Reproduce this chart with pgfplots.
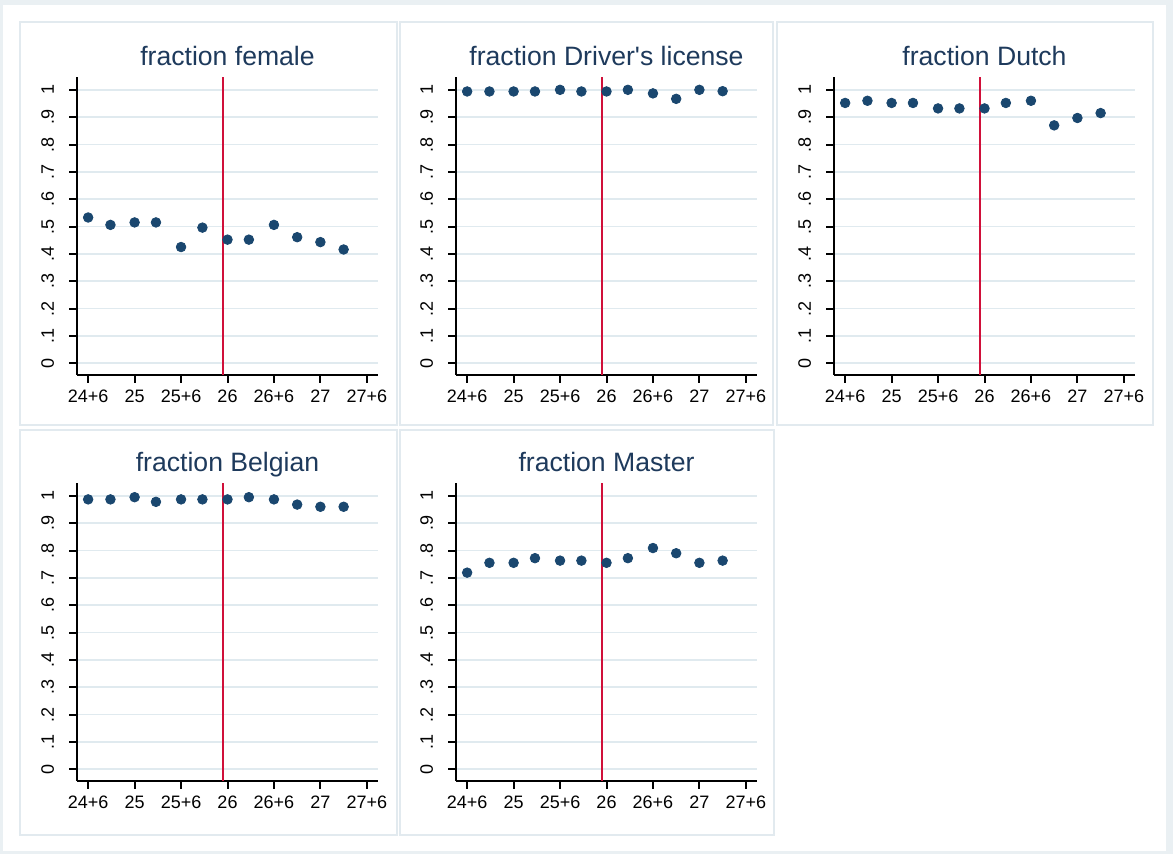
\documentclass[border=0pt]{standalone}
\usepackage{pgfplots}
\pgfplotsset{compat=1.18}
\usepackage{fontspec}
\setmainfont{Liberation Sans}
\definecolor{outerbg}{HTML}{EAF0F3}
\definecolor{framecol}{HTML}{E2EAEF}
\definecolor{gridcol}{HTML}{E0EAEF}
\definecolor{stnavy}{HTML}{1A476F}
\definecolor{redline}{HTML}{D0103A}
\definecolor{titlecol}{HTML}{1E3A5C}

\pgfplotsset{
 panel/.style={
  scale only axis, width=150.5pt, height=149pt,
  xmin=24.38, xmax=27.62, ymin=-0.043, ymax=1.047,
  axis x line*=bottom, axis y line*=left,
  axis line style={line width=1pt, black},
  xtick={24.5,25,25.5,26,26.5,27,27.5},
  xticklabels={24+6,25,25+6,26,26+6,27,27+6},
  ytick={0,0.1,0.2,0.3,0.4,0.5,0.6,0.7,0.8,0.9,1},
  yticklabels={0,.1,.2,.3,.4,.5,.6,.7,.8,.9,1},
  tick align=outside, major tick length=4pt,
  tick style={line width=1pt, black},
  ymajorgrids, grid style={gridcol, line width=0.75pt},
  xticklabel style={font=\fontsize{9}{10}\selectfont, black},
  yticklabel style={font=\fontsize{9}{10}\selectfont, black, rotate=90, anchor=south},
  yticklabel shift=4pt,
  title style={font=\fontsize{13.3}{16}\selectfont, color=titlecol, at={(0.5,1)}, anchor=base, yshift=-0.5pt},
 },
 pts/.style={only marks, mark=*, mark size=2.4pt, color=stnavy, mark options={draw=stnavy, fill=stnavy}},
 cut/.style={redline, line width=1pt, no marks},
}

\begin{document}
\begin{tikzpicture}
\fill[outerbg] (0,0) rectangle (586.5pt,427pt);
\fill[white] (1.5pt,1.5pt) rectangle (583pt,424.5pt);
\draw[framecol, line width=1pt] (10pt,416pt) rectangle (198.5pt,214.5pt);
\draw[framecol, line width=1pt] (200pt,416pt) rectangle (386.5pt,214.5pt);
\draw[framecol, line width=1pt] (388.5pt,416pt) rectangle (576.5pt,214.5pt);
\draw[framecol, line width=1pt] (10pt,212pt) rectangle (198.5pt,9.5pt);
\draw[framecol, line width=1pt] (200pt,212pt) rectangle (387pt,9.5pt);

% Panel 1: female
\begin{axis}[panel, at={(38.5pt,239.5pt)}, anchor=south west, title={fraction female}]
\addplot[cut] coordinates {(25.95,-0.043) (25.95,1.047)};
\addplot[pts] coordinates {
(24.5,0.533) (24.74,0.506) (25,0.515) (25.23,0.515) (25.5,0.425) (25.73,0.496)
(26,0.452) (26.23,0.452) (26.5,0.506) (26.75,0.461) (27,0.443) (27.25,0.416)};
\end{axis}

% Panel 2: Driver's license
\begin{axis}[panel, at={(228pt,239.5pt)}, anchor=south west, title={fraction Driver\textquotesingle s license}]
\addplot[cut] coordinates {(25.95,-0.043) (25.95,1.047)};
\addplot[pts] coordinates {
(24.5,0.994) (24.74,0.994) (25,0.994) (25.23,0.994) (25.5,1.0) (25.73,0.994)
(26,0.994) (26.23,1.0) (26.5,0.987) (26.75,0.967) (27,1.0) (27.25,0.995)};
\end{axis}

% Panel 3: Dutch
\begin{axis}[panel, at={(417pt,239.5pt)}, anchor=south west, title={fraction Dutch}]
\addplot[cut] coordinates {(25.95,-0.043) (25.95,1.047)};
\addplot[pts] coordinates {
(24.5,0.952) (24.74,0.960) (25,0.952) (25.23,0.952) (25.5,0.932) (25.73,0.932)
(26,0.932) (26.23,0.952) (26.5,0.960) (26.75,0.870) (27,0.897) (27.25,0.915)};
\end{axis}

% Panel 4: Belgian
\begin{axis}[panel, at={(38.5pt,36.5pt)}, anchor=south west, title={fraction Belgian}]
\addplot[cut] coordinates {(25.95,-0.043) (25.95,1.047)};
\addplot[pts] coordinates {
(24.5,0.987) (24.74,0.987) (25,0.995) (25.23,0.978) (25.5,0.987) (25.73,0.987)
(26,0.987) (26.23,0.995) (26.5,0.987) (26.75,0.968) (27,0.960) (27.25,0.960)};
\end{axis}

% Panel 5: Master
\begin{axis}[panel, at={(228pt,36.5pt)}, anchor=south west, title={fraction Master}]
\addplot[cut] coordinates {(25.95,-0.043) (25.95,1.047)};
\addplot[pts] coordinates {
(24.5,0.719) (24.74,0.755) (25,0.755) (25.23,0.772) (25.5,0.763) (25.73,0.763)
(26,0.755) (26.23,0.772) (26.5,0.809) (26.75,0.790) (27,0.755) (27.25,0.763)};
\end{axis}

\pgfresetboundingbox
\useasboundingbox (0,0) rectangle (586.5pt,427pt);
\end{tikzpicture}
\end{document}
